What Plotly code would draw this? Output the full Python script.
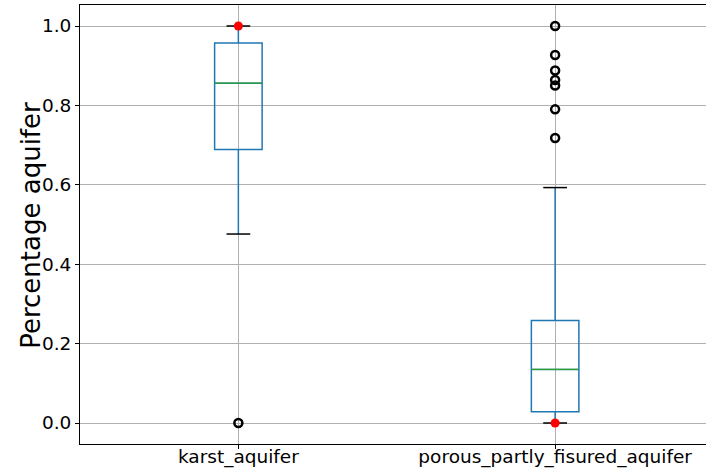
import plotly.graph_objects as go

categories = ["karst_aquifer", "porous_partly_fisured_aquifer"]
positions = [1, 2]
q1 = [0.689, 0.0285]
median = [0.856, 0.135]
q3 = [0.957, 0.258]
lower_whisker = [0.476, 0.0]
upper_whisker = [1.0, 0.593]
outliers = [[0.0], [1.0, 0.927, 0.888, 0.864, 0.850, 0.790, 0.718]]
red_points = [1.0, 0.0]
y_title = "Percentage aquifer"

box_w = 0.15
cap_w = 0.075

fig = go.Figure()

for i in range(2):
    fig.add_trace(go.Box(
        x=[positions[i]], q1=[q1[i]], median=[median[i]], q3=[q3[i]],
        lowerfence=[lower_whisker[i]], upperfence=[upper_whisker[i]],
        width=box_w, whiskerwidth=0, fillcolor="rgba(0,0,0,0)",
        line=dict(color="#1f77b4", width=1.5), boxpoints=False,
        showlegend=False, hoverinfo="skip"))
    # median line
    fig.add_trace(go.Scatter(
        x=[positions[i] - box_w / 2, positions[i] + box_w / 2],
        y=[median[i], median[i]], mode="lines",
        line=dict(color="#2ca02c", width=1.2), showlegend=False))
    # caps
    for v in (lower_whisker[i], upper_whisker[i]):
        fig.add_trace(go.Scatter(
            x=[positions[i] - cap_w / 2, positions[i] + cap_w / 2],
            y=[v, v], mode="lines",
            line=dict(color="black", width=1.5), showlegend=False))
    # outliers
    fig.add_trace(go.Scatter(
        x=[positions[i]] * len(outliers[i]), y=outliers[i], mode="markers",
        marker=dict(symbol="circle-open", size=8, color="black",
                    line=dict(width=2.5, color="black")),
        showlegend=False))

fig.add_trace(go.Scatter(
    x=positions, y=red_points, mode="markers",
    marker=dict(symbol="circle", size=9, color="red"), showlegend=False))

plot_w = 706 - 80
fig.add_annotation(
    text=y_title, textangle=-90, showarrow=False,
    xref="paper", yref="paper", x=-(80 - 31) / plot_w, y=0.497,
    xanchor="center", yanchor="middle",
    font=dict(size=26, family="DejaVu Sans", color="black"))

fig.update_layout(
    width=706, height=469,
    margin=dict(l=80, r=0, t=5, b=25),
    paper_bgcolor="white", plot_bgcolor="white",
    font=dict(family="DejaVu Sans", color="black"),
    xaxis=dict(
        range=[0.5, 0.5 + (706 - 79.5) / 317],
        tickvals=positions, ticktext=categories,
        tickfont=dict(size=18.5), automargin=False, ticklabelstandoff=-8,
        showgrid=True, gridcolor="#b0b0b0", gridwidth=1,
        showline=True, linecolor="black", linewidth=1, mirror=True,
        ticks="outside", ticklen=4, tickcolor="black", zeroline=False),
    yaxis=dict(
        range=[-0.0529, 1.0529],
        tickvals=[0.0, 0.2, 0.4, 0.6, 0.8, 1.0],
        ticktext=["0.0", "0.2", "0.4", "0.6", "0.8", "1.0"],
        tickfont=dict(size=18.5), automargin=False,
        showgrid=True, gridcolor="#b0b0b0", gridwidth=1,
        showline=True, linecolor="black", linewidth=1,
        ticks="outside", ticklen=4, tickcolor="black", zeroline=False),
)

fig.write_html("out.html")
